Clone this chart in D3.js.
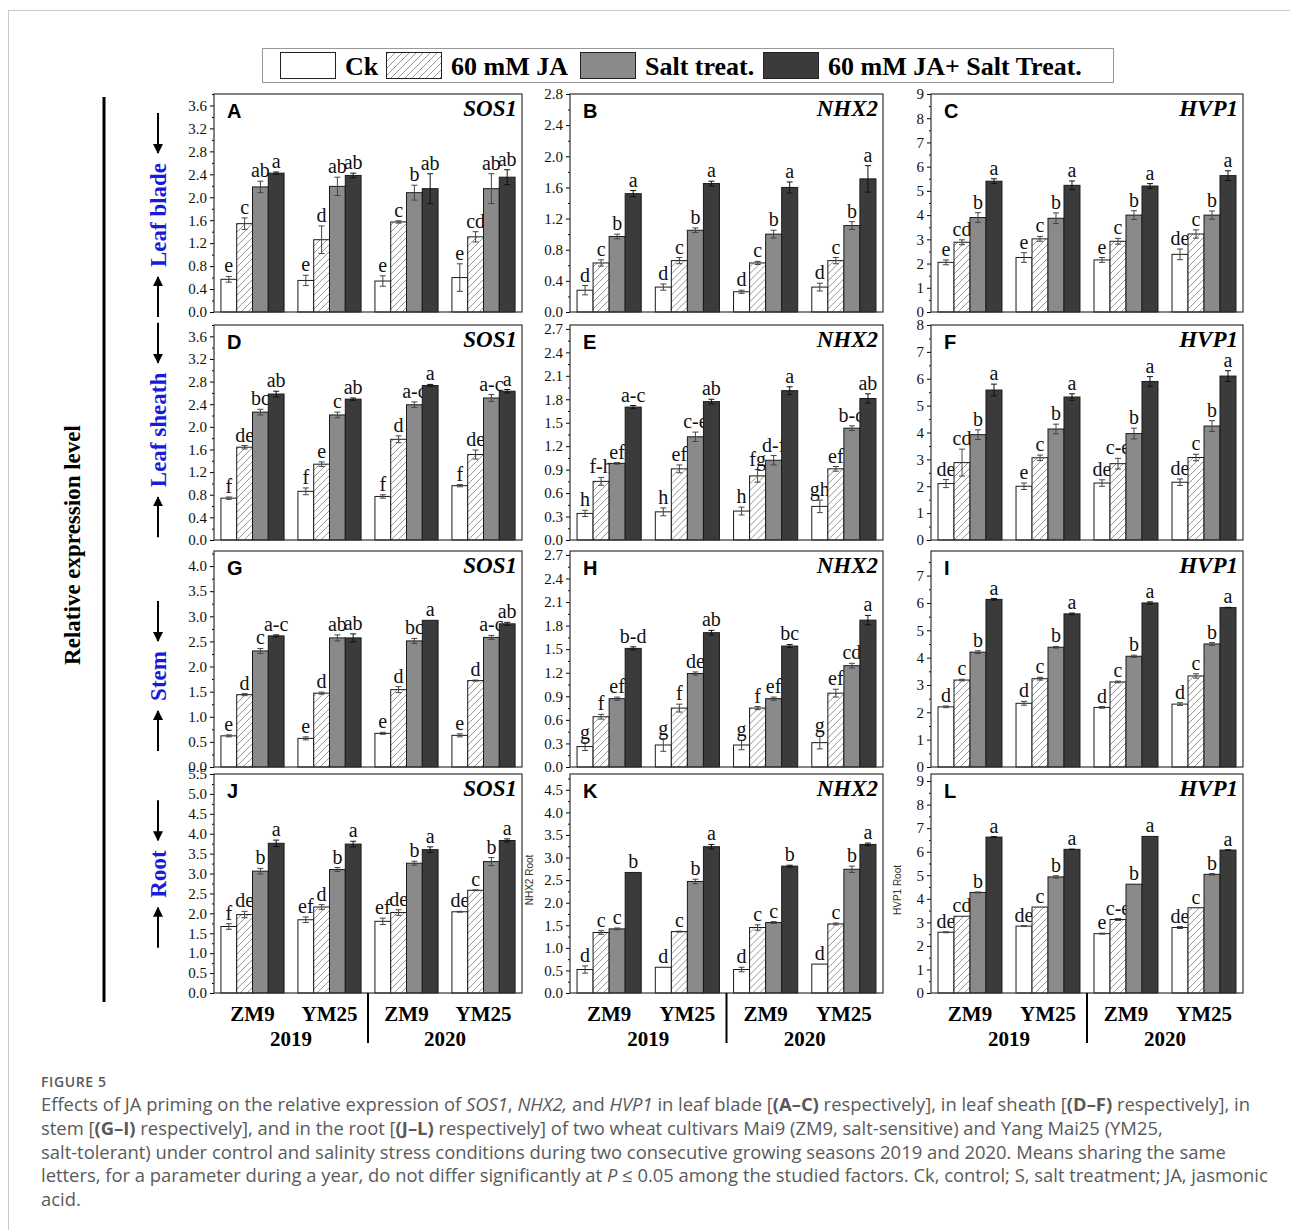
<!DOCTYPE html>
<html>
<head>
<meta charset="utf-8">
<script src="https://cdn.jsdelivr.net/npm/d3@7"></script>
<style>
  body { margin: 0; background: #fff; }
</style>
</head>
<body>
<svg id="fig" width="1290" height="1230"></svg>
<script>
// legend / categories
var treatments = ["Ck", "60 mM JA", "Salt treat.", "60 mM JA+ Salt Treat."];
var cultivars = ["ZM9", "YM25", "ZM9", "YM25"];
var years = ["2019", "2020"];
var tissues = ["Leaf blade", "Leaf sheath", "Stem", "Root"];
var genes = ["SOS1", "NHX2", "HVP1"];
var panelIds = ["A", "B", "C", "D", "E", "F", "G", "H", "I", "J", "K", "L"];

// y axis top and tick step for each panel
var yMax  = [3.8, 2.8, 9, 3.8, 2.75, 8, 4.3, 2.75, 7.9, 5.5, 4.85, 9.3];
var yStep = [0.4, 0.4, 1, 0.4, 0.3, 1, 0.5, 0.3, 1, 0.5, 0.5, 1];

// each row = one group (ZM9 2019, YM25 2019, ZM9 2020, YM25 2020), columns = treatments
// A leaf blade SOS1
var bladeSOS1    = [[0.57,1.54,2.18,2.42],[0.55,1.26,2.19,2.38],[0.54,1.57,2.08,2.15],[0.60,1.31,2.15,2.35]];
var bladeSOS1Err = [[0.05,0.10,0.10,0.02],[0.09,0.24,0.16,0.04],[0.09,0.02,0.13,0.26],[0.24,0.09,0.26,0.13]];
var bladeSOS1Sig = [["e","c","ab","a"],["e","d","ab","ab"],["e","c","b","ab"],["e","cd","ab","ab"]];
// B leaf blade NHX2
var bladeNHX2    = [[0.28,0.63,0.97,1.52],[0.32,0.66,1.05,1.65],[0.26,0.63,1.00,1.60],[0.32,0.66,1.11,1.71]];
var bladeNHX2Err = [[0.06,0.04,0.03,0.04],[0.04,0.04,0.03,0.03],[0.02,0.02,0.05,0.07],[0.05,0.04,0.05,0.17]];
var bladeNHX2Sig = [["d","c","b","a"],["d","c","b","a"],["d","c","b","a"],["d","c","b","a"]];
// C leaf blade HVP1
var bladeHVP1    = [[2.05,2.88,3.90,5.40],[2.25,3.02,3.87,5.23],[2.15,2.92,4.00,5.20],[2.38,3.22,4.00,5.63]];
var bladeHVP1Err = [[0.10,0.10,0.20,0.10],[0.20,0.10,0.22,0.18],[0.10,0.12,0.18,0.10],[0.22,0.17,0.17,0.20]];
var bladeHVP1Sig = [["e","cd","b","a"],["e","c","b","a"],["e","c","b","a"],["de","c","b","a"]];
// D leaf sheath SOS1
var sheathSOS1    = [[0.74,1.64,2.26,2.58],[0.86,1.34,2.21,2.49],[0.77,1.78,2.39,2.73],[0.96,1.51,2.51,2.63]];
var sheathSOS1Err = [[0.02,0.03,0.05,0.05],[0.06,0.04,0.05,0.02],[0.03,0.06,0.05,0.02],[0.02,0.08,0.06,0.03]];
var sheathSOS1Sig = [["f","de","bc","ab"],["f","e","c","ab"],["f","d","a-c","a"],["f","de","a-c","a"]];
// E leaf sheath NHX2
var sheathNHX2    = [[0.34,0.75,0.98,1.70],[0.36,0.91,1.32,1.77],[0.37,0.82,1.02,1.91],[0.43,0.91,1.43,1.81]];
var sheathNHX2Err = [[0.04,0.05,0.01,0.02],[0.05,0.05,0.06,0.03],[0.05,0.08,0.06,0.05],[0.08,0.03,0.03,0.06]];
var sheathNHX2Sig = [["h","f-h","ef","a-c"],["h","ef","c-e","ab"],["h","fg","d-f","a"],["gh","ef","b-d","ab"]];
// F leaf sheath HVP1
var sheathHVP1    = [[2.10,2.88,3.92,5.58],[2.00,3.06,4.13,5.32],[2.12,2.84,3.96,5.90],[2.15,3.07,4.24,6.10]];
var sheathHVP1Err = [[0.15,0.50,0.18,0.22],[0.12,0.10,0.18,0.12],[0.12,0.20,0.20,0.18],[0.12,0.12,0.20,0.20]];
var sheathHVP1Sig = [["de","cd","b","a"],["e","c","b","a"],["de","c-e","b","a"],["de","c","b","a"]];
// G stem SOS1
var stemSOS1    = [[0.62,1.44,2.31,2.61],[0.57,1.47,2.57,2.57],[0.67,1.54,2.51,2.92],[0.63,1.72,2.58,2.85]];
var stemSOS1Err = [[0.02,0.02,0.05,0.02],[0.03,0.02,0.06,0.08],[0.02,0.06,0.05,0.00],[0.03,0.01,0.04,0.03]];
var stemSOS1Sig = [["e","d","c","a-c"],["e","d","ab","ab"],["e","d","bc","a"],["e","d","a-c","ab"]];
// H stem NHX2
var stemNHX2    = [[0.26,0.64,0.87,1.51],[0.28,0.75,1.19,1.71],[0.28,0.75,0.87,1.54],[0.31,0.94,1.29,1.87]];
var stemNHX2Err = [[0.05,0.03,0.02,0.02],[0.08,0.05,0.02,0.03],[0.06,0.02,0.02,0.02],[0.08,0.05,0.03,0.06]];
var stemNHX2Sig = [["g","f","ef","b-d"],["g","f","de","ab"],["g","f","ef","bc"],["g","ef","cd","a"]];
// I stem HVP1
var stemHVP1    = [[2.20,3.18,4.20,6.13],[2.33,3.23,4.38,5.60],[2.18,3.11,4.05,6.00],[2.30,3.33,4.50,5.83]];
var stemHVP1Err = [[0.03,0.03,0.05,0.03],[0.07,0.05,0.03,0.03],[0.03,0.03,0.04,0.04],[0.05,0.08,0.05,0.01]];
var stemHVP1Sig = [["d","c","b","a"],["d","c","b","a"],["d","c","b","a"],["d","c","b","a"]];
// J root SOS1
var rootSOS1    = [[1.67,1.97,3.06,3.76],[1.84,2.16,3.10,3.74],[1.80,2.02,3.26,3.60],[2.04,2.58,3.30,3.83]];
var rootSOS1Err = [[0.07,0.08,0.07,0.08],[0.07,0.06,0.05,0.07],[0.08,0.07,0.05,0.07],[0.01,0.01,0.10,0.04]];
var rootSOS1Sig = [["f","de","b","a"],["ef","d","b","a"],["ef","de","b","a"],["de","c","b","a"]];
// K root NHX2
var rootNHX2    = [[0.52,1.34,1.42,2.67],[0.57,1.36,2.47,3.24],[0.52,1.45,1.56,2.81],[0.64,1.53,2.74,3.29]];
var rootNHX2Err = [[0.08,0.04,0.02,0.00],[0.00,0.01,0.05,0.05],[0.05,0.06,0.02,0.02],[0.00,0.02,0.07,0.03]];
var rootNHX2Sig = [["d","c","c","b"],["d","c","b","a"],["d","c","c","b"],["d","c","b","a"]];
// L root HVP1
var rootHVP1    = [[2.58,3.26,4.27,6.62],[2.84,3.65,4.93,6.10],[2.52,3.12,4.62,6.65],[2.78,3.62,5.04,6.07]];
var rootHVP1Err = [[0.02,0.00,0.02,0.02],[0.02,0.00,0.05,0.01],[0.02,0.04,0.00,0.00],[0.04,0.00,0.03,0.01]];
var rootHVP1Sig = [["de","cd","b","a"],["de","c","b","a"],["e","c-e","b","a"],["de","c","b","a"]];

var panelMeans = [bladeSOS1, bladeNHX2, bladeHVP1, sheathSOS1, sheathNHX2, sheathHVP1,
                  stemSOS1, stemNHX2, stemHVP1, rootSOS1, rootNHX2, rootHVP1];
var panelErrs  = [bladeSOS1Err, bladeNHX2Err, bladeHVP1Err, sheathSOS1Err, sheathNHX2Err, sheathHVP1Err,
                  stemSOS1Err, stemNHX2Err, stemHVP1Err, rootSOS1Err, rootNHX2Err, rootHVP1Err];
var panelSigs  = [bladeSOS1Sig, bladeNHX2Sig, bladeHVP1Sig, sheathSOS1Sig, sheathNHX2Sig, sheathHVP1Sig,
                  stemSOS1Sig, stemNHX2Sig, stemHVP1Sig, rootSOS1Sig, rootNHX2Sig, rootHVP1Sig];

// styling
var fills = ["#ffffff", "url(#hatch)", "#8a8a8a", "#3b3b3b"];
var serif = "'Liberation Serif', 'Times New Roman', serif";
var sans = "'Liberation Sans', Arial, sans-serif";

// panel boxes (plot areas)
var cols = [{x0: 214, x1: 522}, {x0: 570, x1: 883}, {x0: 931, x1: 1243}];
var rows = [{y0: 94, y1: 312}, {y0: 325, y1: 540}, {y0: 551, y1: 767}, {y0: 774, y1: 993}];

var svg = d3.select("#fig");
svg.append("rect").attr("width", 1290).attr("height", 1230).attr("fill", "#fff");
// outer frame of the figure block
svg.append("rect").attr("x", 8.5).attr("y", 10.5).attr("width", 1300).attr("height", 1300)
   .attr("fill", "none").attr("stroke", "#c8c8c8");

var defs = svg.append("defs");
var pat = defs.append("pattern").attr("id", "hatch").attr("patternUnits", "userSpaceOnUse")
    .attr("width", 7).attr("height", 7);
pat.append("rect").attr("width", 7).attr("height", 7).attr("fill", "#fff");
pat.append("path").attr("d", "M-1,1 l2,-2 M0,7 l7,-7 M6,8 l2,-2")
   .attr("stroke", "#8a8a8a").attr("stroke-width", 0.9);

// legend
var lg = svg.append("g");
lg.append("rect").attr("x", 262.5).attr("y", 48.5).attr("width", 851).attr("height", 34)
  .attr("fill", "#fff").attr("stroke", "#999");
var legX = [280, 386, 580, 763];
treatments.forEach(function(t, i) {
    lg.append("rect").attr("x", legX[i] + 0.5).attr("y", 52.5).attr("width", 55).attr("height", 26)
      .attr("fill", fills[i]).attr("stroke", "#222");
    lg.append("text").attr("x", legX[i] + 65).attr("y", 75).text(t)
      .style("font-family", serif).style("font-weight", "bold").style("font-size", "26px");
});

// left title and bar
svg.append("text").attr("transform", "translate(80,545) rotate(-90)")
   .attr("text-anchor", "middle").text("Relative expression level")
   .style("font-family", serif).style("font-weight", "bold").style("font-size", "23px");
svg.append("line").attr("x1", 104).attr("x2", 104).attr("y1", 97).attr("y2", 1002)
   .attr("stroke", "#000").attr("stroke-width", 3);

defs.append("marker").attr("id", "arr").attr("viewBox", "0 0 10 10").attr("refX", 9).attr("refY", 5)
    .attr("markerWidth", 5).attr("markerHeight", 5).attr("orient", "auto")
    .append("path").attr("d", "M0,0 L10,5 L0,10 z").attr("fill", "#000");

// tissue labels with arrows
var tissueCy = [215, 430, 676, 874];
tissues.forEach(function(t, r) {
    var lbl = svg.append("text").attr("transform", "translate(166," + tissueCy[r] + ") rotate(-90)")
       .attr("text-anchor", "middle").text(t)
       .style("font-family", serif).style("font-weight", "bold").style("font-size", "23px")
       .style("fill", "#1a1adb");
    var half = lbl.node().getComputedTextLength() / 2;
    svg.append("line").attr("x1", 158).attr("x2", 158)
       .attr("y1", tissueCy[r] - half - 50).attr("y2", tissueCy[r] - half - 10)
       .attr("stroke", "#000").attr("stroke-width", 2).attr("marker-end", "url(#arr)");
    svg.append("line").attr("x1", 158).attr("x2", 158)
       .attr("y1", tissueCy[r] + half + 50).attr("y2", tissueCy[r] + half + 10)
       .attr("stroke", "#000").attr("stroke-width", 2).attr("marker-end", "url(#arr)");
});

// panels
panelIds.forEach(function(id, p) {
    var c = cols[p % 3], r = rows[Math.floor(p / 3)];
    var w = c.x1 - c.x0, h = r.y1 - r.y0;
    var g = svg.append("g").attr("transform", "translate(" + c.x0 + "," + r.y0 + ")");

    var x = d3.scaleBand().domain(d3.range(4)).range([0, w]).paddingInner(0.18).paddingOuter(0.09);
    var xb = d3.scaleBand().domain(d3.range(4)).range([0, x.bandwidth()]);
    var y = d3.scaleLinear().domain([0, yMax[p]]).range([h, 0]);

    var step = yStep[p];
    var major = d3.range(0, yMax[p] + 1e-9, step);
    var minor = d3.range(step / 2, yMax[p] + 1e-9, step);
    var fmt = step < 1 ? d3.format(".1f") : d3.format("d");

    g.append("g").call(d3.axisLeft(y).tickValues(minor).tickSize(2).tickFormat(""))
     .call(function(a) { a.select(".domain").remove(); });
    var ax = g.append("g").call(d3.axisLeft(y).tickValues(major).tickSize(4).tickPadding(3).tickFormat(fmt));
    ax.select(".domain").remove();
    ax.selectAll("text").style("font-family", serif).style("font-size", "15px").attr("fill", "#111");

    var grp = g.selectAll(".grp").data(panelMeans[p]).enter().append("g")
        .attr("transform", function(d, i) { return "translate(" + x(i) + ",0)"; });

    grp.each(function(vals, gi) {
        var gg = d3.select(this);
        var errs = panelErrs[p][gi], sigs = panelSigs[p][gi];
        vals.forEach(function(v, ti) {
            var bx = xb(ti), bw = xb.bandwidth();
            gg.append("rect").attr("x", bx).attr("y", y(v)).attr("width", bw).attr("height", h - y(v))
              .attr("fill", fills[ti]).attr("stroke", "#1a1a1a").attr("stroke-width", 1);
            var cx = bx + bw / 2, e = errs[ti];
            if (e > 0) {
                gg.append("path")
                  .attr("d", "M" + cx + "," + y(v - e) + "V" + y(v + e) +
                             "M" + (cx - 3) + "," + y(v + e) + "h6" +
                             "M" + (cx - 3) + "," + y(v - e) + "h6")
                  .attr("stroke", ti === 3 ? "#111" : "#444").attr("fill", "none").attr("stroke-width", 1);
            }
            gg.append("text").attr("x", cx).attr("y", y(v + e) - 4).attr("text-anchor", "middle")
              .text(sigs[ti]).style("font-family", serif).style("font-size", "20px").attr("fill", "#111");
        });
    });

    // frame
    g.append("rect").attr("width", w).attr("height", h).attr("fill", "none")
     .attr("stroke", "#333").attr("stroke-width", 1.2);

    g.append("text").attr("x", 13).attr("y", 24).text(id)
     .style("font-family", sans).style("font-weight", "bold").style("font-size", "20px");
    g.append("text").attr("x", w - 5).attr("y", 22).attr("text-anchor", "end").text(genes[p % 3])
     .style("font-family", serif).style("font-weight", "bold").style("font-style", "italic")
     .style("font-size", "23px");

    // bottom row: cultivar/year labels
    if (p >= 9) {
        cultivars.forEach(function(cv, i) {
            g.append("text").attr("x", x(i) + x.bandwidth() / 2).attr("y", h + 28).attr("text-anchor", "middle")
             .text(cv).style("font-family", serif).style("font-weight", "bold").style("font-size", "21px");
        });
        years.forEach(function(yr, k) {
            var mid = (x(2 * k) + x(2 * k + 1) + x.bandwidth()) / 2;
            g.append("text").attr("x", mid).attr("y", h + 53).attr("text-anchor", "middle")
             .text(yr).style("font-family", serif).style("font-weight", "bold").style("font-size", "21px");
        });
        g.append("line").attr("x1", w / 2).attr("x2", w / 2).attr("y1", h).attr("y2", h + 50)
         .attr("stroke", "#000").attr("stroke-width", 2);
    }
});

// small side labels in root panels
[["NHX2 Root", 533, 880], ["HVP1 Root", 901, 890]].forEach(function(s) {
    svg.append("text").attr("transform", "translate(" + s[1] + "," + s[2] + ") rotate(-90)")
       .attr("text-anchor", "middle").text(s[0])
       .style("font-family", sans).style("font-size", "10px").attr("fill", "#333");
});

// caption
var cap = svg.append("g").style("font-family", "'Open Sans', sans-serif").attr("fill", "#595959");
cap.append("text").attr("x", 41).attr("y", 1087).text("FIGURE 5")
   .style("font-size", "14px").style("letter-spacing", "0.6px").style("font-weight", "600");

var capLines = [
    [["Effects of JA priming on the relative expression of ", ""], ["SOS1", "i"], [", ", ""], ["NHX2,", "i"],
     [" and ", ""], ["HVP1", "i"], [" in leaf blade [", ""], ["(A–C)", "b"], [" respectively], in leaf sheath [", ""],
     ["(D–F)", "b"], [" respectively], in", ""]],
    [["stem [", ""], ["(G–I)", "b"], [" respectively], and in the root [", ""], ["(J–L)", "b"],
     [" respectively] of two wheat cultivars Mai9 (ZM9, salt-sensitive) and Yang Mai25 (YM25,", ""]],
    [["salt-tolerant) under control and salinity stress conditions during two consecutive growing seasons 2019 and 2020. Means sharing the same", ""]],
    [["letters, for a parameter during a year, do not differ significantly at ", ""], ["P", "i"],
     [" ≤ 0.05 among the studied factors. Ck, control; S, salt treatment; JA, jasmonic", ""]],
    [["acid.", ""]]
];
capLines.forEach(function(line, i) {
    var t = cap.append("text").attr("x", 41).attr("y", 1111 + i * 23.8).style("font-size", "18.4px");
    line.forEach(function(seg) {
        var ts = t.append("tspan").text(seg[0]);
        if (seg[1] === "i") ts.style("font-style", "italic");
        if (seg[1] === "b") ts.style("font-weight", "bold");
    });
});
</script>
</body>
</html>
